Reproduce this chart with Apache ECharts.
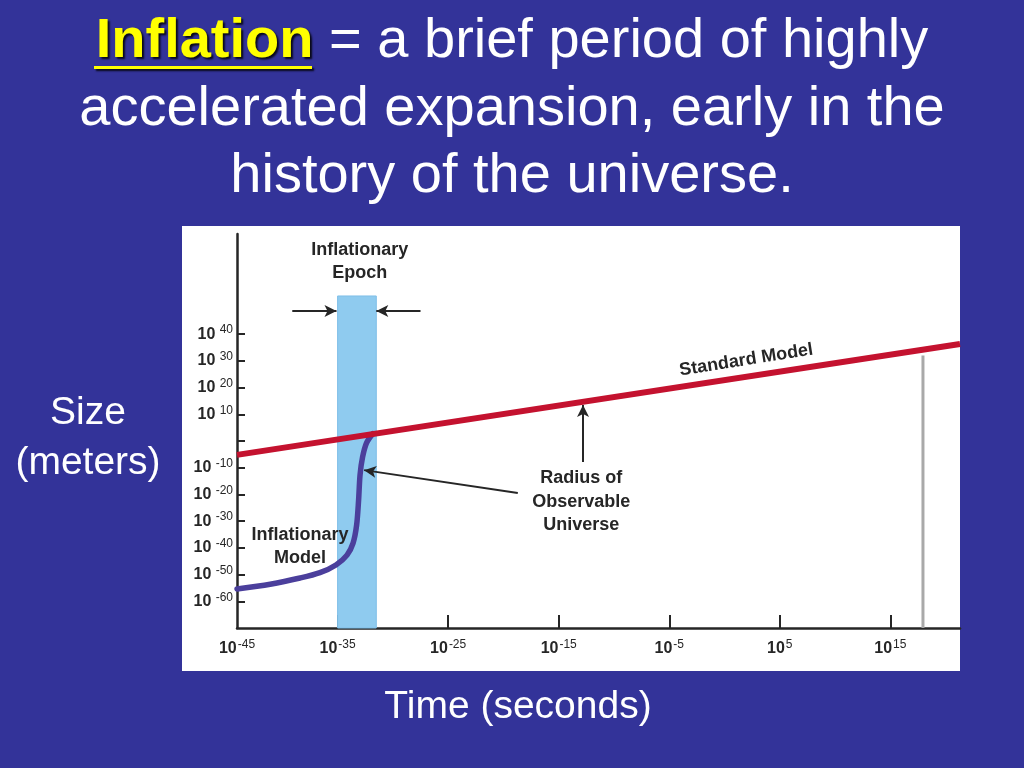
<!DOCTYPE html>
<html>
<head>
<meta charset="utf-8">
<script src="https://cdn.jsdelivr.net/npm/echarts@6/dist/echarts.min.js"></script>
<style>
html,body{margin:0;padding:0;background:#333399;}
#chart{width:1024px;height:768px;}
</style>
</head>
<body>
<div id="chart"></div>
<script>
// ---- axis extents (exponents of ten) ----
const X_MIN = -44.1, X_MAX = 21.3;
const Y_MIN = -70, Y_MAX = 77.5;

// ---- tick labels ----
const xTickValues = [-35, -25, -15, -5, 5, 15];
const xLabelValues = [X_MIN, -35, -25, -15, -5, 5, 15];
const xLabelExps = [-45, -35, -25, -15, -5, 5, 15];
const yTickValues = [40, 30, 20, 10, 0, -10, -20, -30, -40, -50, -60];
const yLabelValues = [40, 30, 20, 10, -10, -20, -30, -40, -50, -60];

// ---- series data (log10 time, log10 size) ----
const standardX = [-44.1, 21.3];
const standardY = [-5.2, 36.3];
const inflationX = [-44.1, -41.1, -38.4, -36.6, -35.15, -34.15, -33.6, -33.28, -33.1, -32.97, -32.74, -32.38, -31.8];
const inflationY = [-55.4, -53.6, -51.3, -49.3, -46.4, -42.7, -38.2, -31.5, -22.1, -12.7, -6.0, -0.7, 2.8];
const epochRange = [-35, -31.5];
const epochTop = 54.3;
const nowX = 17.95;
const nowTop = 32;

// ---- annotation arrows [from, to] ----
const arrows = [
  [[-18.7, -19.5], [-32.6, -10.9]],
  [[-12.8, -7.9], [-12.8, 13.5]],
  [[-39.1, 48.7], [-35.1, 48.7]],
  [[-27.5, 48.7], [-31.5, 48.7]]
];
// ---- annotation texts ----
const notes = [
  {text: 'Inflationary\nEpoch', at: [-33.0, 67.2], rotate: 0, lh: 23},
  {text: 'Standard Model', at: [1.96, 30.3], rotate: 9, lh: 20},
  {text: 'Radius of\nObservable\nUniverse', at: [-12.96, -22.8], rotate: 0, lh: 23.5},
  {text: 'Inflationary\nModel', at: [-38.4, -39.5], rotate: 0, lh: 23}
];

const FONT = '"Liberation Sans", Arial, Helvetica, sans-serif';
const DARK = '#262626';

const zip = (a, b) => a.map((v, i) => [v, b[i]]);

const chart = echarts.init(document.getElementById('chart'));

const supRich = {
  b: {fontSize: 16, fontWeight: 'bold', color: DARK, fontFamily: FONT, lineHeight: 20},
  s: {fontSize: 12, color: DARK, fontFamily: FONT, lineHeight: 12, verticalAlign: 'top', padding: [0, 0, 0, 1]}
};

function nearestIdx(arr, v) {
  let best = 0, d = Infinity;
  arr.forEach((a, i) => { if (Math.abs(a - v) < d) { d = Math.abs(a - v); best = i; } });
  return best;
}

chart.setOption({
  backgroundColor: '#333399',
  animation: false,
  graphic: [
    {type: 'rect', z: -100, shape: {x: 182, y: 226, width: 778, height: 445}, style: {fill: '#ffffff'}},
    {type: 'text', x: 512, y: 42, style: {
      text: '{inf|Inflation}{n| = a brief period of highly}',
      align: 'center', verticalAlign: 'middle',
      rich: {
        inf: {fontSize: 56, fontWeight: 'bold', fontFamily: FONT, fill: '#ffff00',
              textShadowColor: 'rgba(0,0,0,0.85)', textShadowOffsetX: 2, textShadowOffsetY: 2, textShadowBlur: 2},
        n: {fontSize: 56, fontFamily: FONT, fill: '#ffffff'}
      }
    }},
    {type: 'rect', shape: {x: 94, y: 66, width: 218, height: 3},
     style: {fill: '#ffff00', shadowColor: 'rgba(0,0,0,0.85)', shadowOffsetX: 2, shadowOffsetY: 2, shadowBlur: 2}},
    {type: 'text', x: 512, y: 110, style: {text: 'accelerated expansion, early in the', align: 'center', verticalAlign: 'middle',
      fontSize: 56, fontFamily: FONT, fill: '#ffffff'}},
    {type: 'text', x: 512, y: 177, style: {text: 'history of the universe.', align: 'center', verticalAlign: 'middle',
      fontSize: 56, fontFamily: FONT, fill: '#ffffff'}},
    {type: 'text', x: 88, y: 413, style: {text: 'Size', align: 'center', verticalAlign: 'middle',
      fontSize: 39, fontFamily: FONT, fill: '#ffffff'}},
    {type: 'text', x: 88, y: 463, style: {text: '(meters)', align: 'center', verticalAlign: 'middle',
      fontSize: 39, fontFamily: FONT, fill: '#ffffff'}},
    {type: 'text', x: 518, y: 707, style: {text: 'Time (seconds)', align: 'center', verticalAlign: 'middle',
      fontSize: 39, fontFamily: FONT, fill: '#ffffff'}}
  ],
  grid: {left: 237, right: 64, top: 234, bottom: 140, containLabel: false},
  xAxis: {
    type: 'value', min: X_MIN, max: X_MAX,
    splitLine: {show: false},
    axisLine: {onZero: false, lineStyle: {color: DARK, width: 2.5}},
    axisTick: {inside: true, length: 13, customValues: xTickValues, lineStyle: {color: DARK, width: 2}},
    axisLabel: {
      customValues: xLabelValues, margin: 11,
      formatter: v => '{b|10}{s|' + xLabelExps[nearestIdx(xLabelValues, v)] + '}',
      rich: supRich
    }
  },
  yAxis: {
    type: 'value', min: Y_MIN, max: Y_MAX,
    splitLine: {show: false},
    axisLine: {onZero: false, lineStyle: {color: DARK, width: 2.5}},
    axisTick: {inside: true, length: 8, customValues: yTickValues, lineStyle: {color: DARK, width: 2}},
    axisLabel: {
      customValues: yLabelValues, margin: 4,
      formatter: v => '{b|10}{s| ' + v + '}',
      rich: supRich
    }
  },
  series: [
    {
      name: 'Inflationary Epoch', type: 'line', data: [], z: 1, silent: true,
      markArea: {
        silent: true,
        itemStyle: {color: '#8fcbef', borderColor: '#7fbfe8', borderWidth: 1},
        data: [[{coord: [epochRange[0], Y_MIN]}, {coord: [epochRange[1], epochTop]}]]
      }
    },
    {
      name: 'Now', type: 'line', data: [[nowX, Y_MIN], [nowX, nowTop]], z: 2,
      symbol: 'none', lineStyle: {color: '#a9a9a9', width: 3}
    },
    {
      name: 'Standard Model', type: 'line', data: zip(standardX, standardY), z: 4,
      symbol: 'none', lineStyle: {color: '#c4122f', width: 6}
    },
    {
      name: 'Inflationary Model', type: 'line', data: zip(inflationX, inflationY), z: 3,
      symbol: 'none', smooth: 0.3,
      lineStyle: {color: '#4b3f9c', width: 5.5, cap: 'round', join: 'round'}
    },
    {
      name: 'Annotations', type: 'line', data: [], z: 6, silent: true,
      markLine: {
        silent: true, symbol: ['none', 'arrow'], symbolSize: [9, 12],
        label: {show: false},
        lineStyle: {color: DARK, width: 2, type: 'solid'},
        data: arrows.map(a => [{coord: a[0]}, {coord: a[1]}])
      },
      markPoint: {
        silent: true, symbol: 'circle', symbolSize: 0,
        data: notes.map(n => ({
          coord: n.at,
          label: {
            show: true, position: 'inside', formatter: n.text, rotate: n.rotate,
            fontSize: 18, fontWeight: 'bold', fontFamily: FONT, color: DARK,
            lineHeight: n.lh, align: 'center', verticalAlign: 'middle'
          }
        }))
      }
    }
  ]
});
</script>
</body>
</html>
